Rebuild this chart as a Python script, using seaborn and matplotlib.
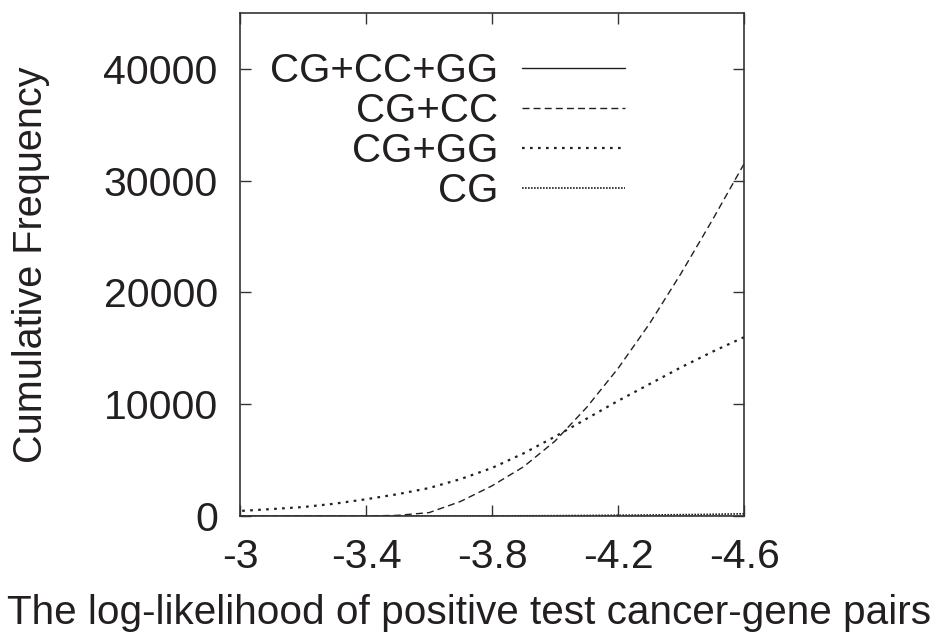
import matplotlib
matplotlib.use("Agg")
import matplotlib.pyplot as plt
import pandas as pd
import seaborn as sns

# values
x_vals = [-3.0, -3.1, -3.2, -3.3, -3.4, -3.5, -3.6, -3.7, -3.8, -3.9,
          -4.0, -4.1, -4.2, -4.3, -4.4, -4.5, -4.6]
cg_cc_gg = [0, 0, 0, 0, 0, 0, 0, 0, 0, 0, 0, 0, 0, 0, 0, 0, 0]
cg_cc = [0, 0, 0, 0, 0, 60, 300, 1300, 2700, 4400,
         6700, 9700, 13200, 17200, 21700, 26500, 31500]
cg_gg = [450, 620, 800, 1100, 1500, 1950, 2500, 3300, 4300, 5600,
         7100, 8700, 10300, 11800, 13300, 14700, 16000]
cg = [0, 0, 0, 0, 0, 0, 0, 0, 10, 20, 30, 50, 70, 90, 120, 150, 200]

series_names = ["CG+CC+GG", "CG+CC", "CG+GG", "CG"]
x_ticks = [-3.0, -3.4, -3.8, -4.2, -4.6]
x_tick_labels = ["-3", "-3.4", "-3.8", "-4.2", "-4.6"]
y_ticks = [0, 10000, 20000, 30000, 40000]

ink = "#231f20"

sns.set_style("ticks")
plt.rcParams['font.family'] = ['Liberation Sans', 'DejaVu Sans']
plt.rcParams['text.color'] = ink
plt.rcParams['xtick.labelcolor'] = ink
plt.rcParams['ytick.labelcolor'] = ink
plt.rcParams['axes.labelcolor'] = ink

fig = plt.figure(figsize=(9.49, 6.35), dpi=100)
ax = fig.add_axes([0.2529, 0.1874, 0.784 - 0.2529, 0.9795 - 0.1874])

styles = {"CG+CC+GG": "-",
          "CG+CC": (0, (5, 3)),
          "CG+GG": (0, (1.2, 2.4)),
          "CG": (0, (1, 0.8))}
widths = {"CG+CC+GG": 1.0, "CG+CC": 1.0, "CG+GG": 1.6, "CG": 1.2}
values = {"CG+CC+GG": cg_cc_gg, "CG+CC": cg_cc, "CG+GG": cg_gg, "CG": cg}

for name in series_names:
    df = pd.DataFrame({"x": x_vals, "y": values[name]})
    sns.lineplot(data=df, x="x", y="y", ax=ax, color=ink, lw=widths[name],
                 linestyle=styles[name], label=name)

ax.set_xlim(-3.0, -4.6)
ax.set_ylim(0, 45000)
ax.set_xticks(x_ticks)
ax.set_xticklabels(x_tick_labels)
ax.set_yticks(y_ticks)
ax.tick_params(direction="in", length=8, width=1, labelsize=29.5,
               top=True, right=True, color="#333333")
ax.tick_params(axis="y", pad=16)
ax.tick_params(axis="x", pad=16)
for s in ax.spines.values():
    s.set_linewidth(1.2)
    s.set_color("#333333")

ax.set_xlabel("The log-likelihood of positive test cancer-gene pairs",
              fontsize=29.2)
ax.xaxis.set_label_coords(0.454, -0.193)
ax.xaxis.label.set_va("center")
ax.set_ylabel("Cumulative Frequency", fontsize=28.5)
ax.yaxis.set_label_coords(-0.415, 0.5)
ax.yaxis.label.set_va("center")

leg = ax.legend(loc="upper left", bbox_to_anchor=(-0.012, 0.995),
                markerfirst=False, frameon=False, fontsize=29,
                handlelength=2.55, labelspacing=0.05, handletextpad=0.6)
for t in leg.get_texts():
    t.set_ha("right")

fig.savefig("out.png", dpi=100)
